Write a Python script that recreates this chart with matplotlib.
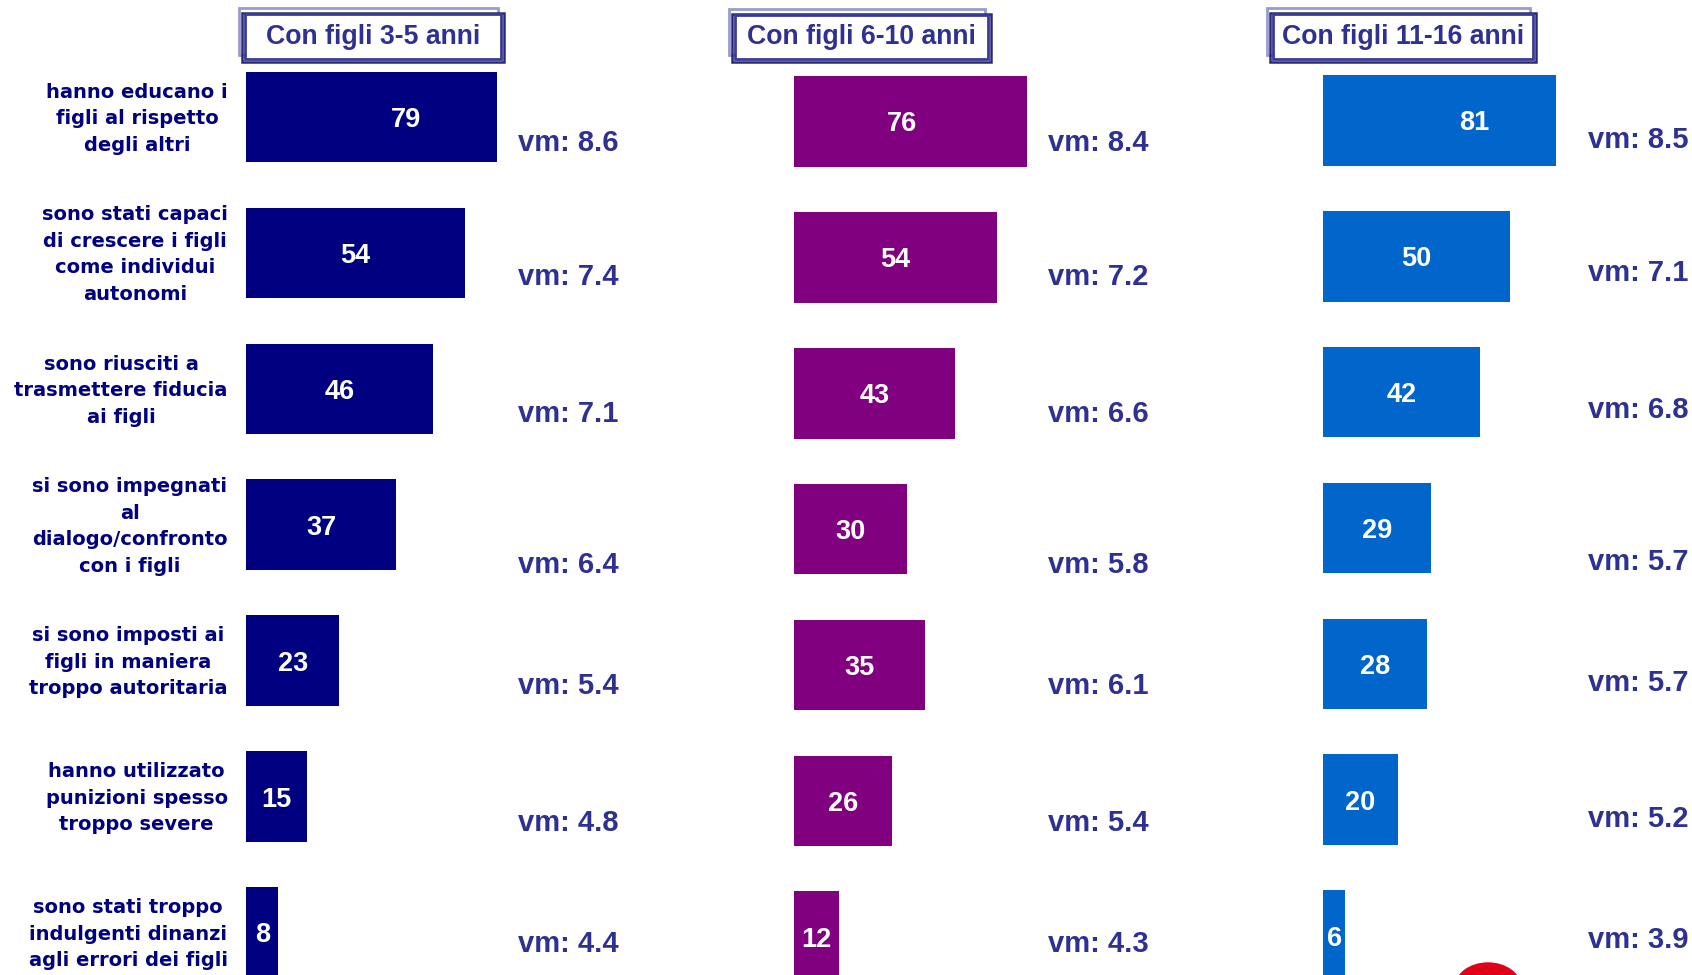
import matplotlib
matplotlib.use("Agg")
import matplotlib.pyplot as plt
from matplotlib.patches import Rectangle, Ellipse

# data
categories = [
    "hanno educano i\nfigli al rispetto\ndegli altri",
    "sono stati capaci\ndi crescere i figli\ncome individui\nautonomi",
    "sono riusciti a\ntrasmettere fiducia\nai figli",
    "si sono impegnati\nal\ndialogo/confronto\ncon i figli",
    "si sono imposti ai\nfigli in maniera\ntroppo autoritaria",
    "hanno utilizzato\npunizioni spesso\ntroppo severe",
    "sono stati troppo\nindulgenti dinanzi\nagli errori dei figli",
]
titles = ["Con figli 3-5 anni", "Con figli 6-10 anni", "Con figli 11-16 anni"]
vals_3_5 = [79, 54, 46, 37, 23, 15, 8]
vals_6_10 = [76, 54, 43, 30, 35, 26, 12]
vals_11_16 = [81, 50, 42, 29, 28, 20, 6]
vm_3_5 = [8.6, 7.4, 7.1, 6.4, 5.4, 4.8, 4.4]
vm_6_10 = [8.4, 7.2, 6.6, 5.8, 6.1, 5.4, 4.3]
vm_11_16 = [8.5, 7.1, 6.8, 5.7, 5.7, 5.2, 3.9]
colors = ["#000080", "#800080", "#0066CC"]

W, H = 1692, 975
fig = plt.figure(figsize=(W / 100, H / 100), dpi=100)
fig.patch.set_facecolor("white")

txt_col = "#2e3192"
lab_col = "#000080"

# layout (pixels)
step = 135.9
p_left = [246, 794.2, 1323]
p_scale = [4.06, 3.75, 3.73]      # px per unit, rows 2-7
p_top_scale = [3.18, 3.067, 2.877]  # px per unit, first row
p_row0 = [117.1, 121.4, 120.3]
top_lab_ratio = [1.0, 0.76, 1.0]
vm_x = [67, 67.7, 71]
vm_dy = [0.14, 0.125, 0.13, 0.245, 0.135, 0.14, 0.03]
vm_shift = [0.03, 0.0, -0.02]
boxes = [(245, 14, 501, 59), (735, 15, 988, 59), (1273, 14, 1533, 59)]


def add_px_axes(left, top, width, height):
    return fig.add_axes([left / W, 1 - (top + height) / H, width / W, height / H])


panels = [(vals_3_5, vm_3_5), (vals_6_10, vm_6_10), (vals_11_16, vm_11_16)]
axes = []
for p, (vals, vms) in enumerate(panels):
    width = 100 * p_scale[p]
    top = p_row0[p] - 0.5 * step
    ax = add_px_axes(p_left[p], top, width, 7 * step)
    ax.set_xlim(0, 100)
    ax.set_ylim(6.5, -0.5)
    ax.axis("off")
    axt = ax.twiny()
    axt.set_xlim(0, width / p_top_scale[p])
    axt.axis("off")

    rows = list(range(1, len(vals)))
    ax.barh(rows, vals[1:], height=0.667, color=colors[p])
    axt.barh([0], [vals[0]], height=0.667, color=colors[p])

    lab_kw = dict(ha="center", va="center_baseline", color="white",
                  fontsize=19.5, fontweight="bold", family="Liberation Sans")
    # first row label sits on the twin axes (drawn above the first bar)
    x0 = vals[0] / 2 * top_lab_ratio[p] * p_scale[p] / p_top_scale[p]
    axt.text(x0, 0, str(vals[0]), **lab_kw)
    for i, v in enumerate(vals[1:], start=1):
        ax.text(v / 2, i, str(v), **lab_kw)
    for i, m in enumerate(vms):
        ax.text(vm_x[p], i + vm_dy[i] + vm_shift[p], f"vm: {m:.1f}", ha="left",
                va="center_baseline", color=txt_col, fontsize=21, fontweight="bold",
                family="Liberation Sans")
    axes.append(ax)

# category labels
for i, lab in enumerate(categories):
    axes[0].text(-4.5, i + 0.012, lab, ha="right", va="center", multialignment="center",
                 color=lab_col, fontsize=14, fontweight="bold", family="DejaVu Sans",
                 linespacing=1.5)

# title boxes
for (x0, y0, x1, y1), t in zip(boxes, titles):
    def rect(dx0, dy0, dx1, dy1, **kw):
        r = Rectangle(((x0 + dx0) / W, 1 - (y1 + dy1) / H),
                      (x1 + dx1 - x0 - dx0) / W, (y1 + dy1 - y0 - dy0) / H,
                      transform=fig.transFigure, **kw)
        fig.add_artist(r)
    rect(-6, -6, -3, -4, fill=False, edgecolor="#9a9ad0", linewidth=2)
    rect(-3, -1, 3, 3, fill=False, edgecolor="#2a2a70", linewidth=1.8)
    rect(0, 0, 0, 0, facecolor="white", edgecolor="#3a3a98", linewidth=2)
    fig.text((x0 + x1) / 2 / W, 1 - (y0 + y1) / 2 / H, t, ha="center", va="center",
             color=txt_col, fontsize=19.2, fontweight="bold", family="Liberation Sans")

# partial logo at bottom edge
fig.add_artist(Ellipse((1488 / W, 1 - 988 / H), 66 / W, 50 / H,
                       transform=fig.transFigure, color="#e0001a"))

fig.savefig("out.png", dpi=100, facecolor="white")
